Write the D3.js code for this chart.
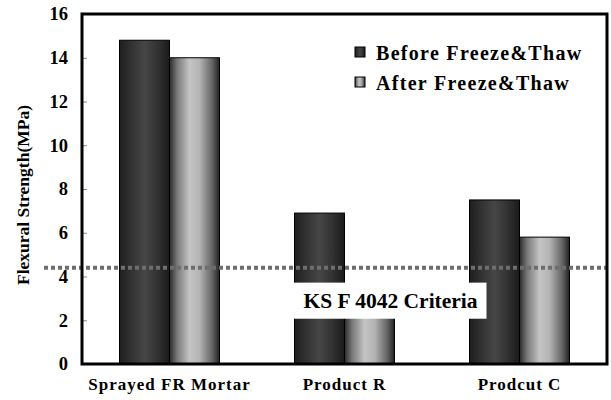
<!DOCTYPE html>
<html>
<head>
<meta charset="utf-8">
<script src="https://cdn.jsdelivr.net/npm/d3@7"></script>
<style>
  html, body { margin: 0; padding: 0; background: #fff; }
  svg { display: block; }
  text { font-family: "Liberation Serif", "Times New Roman", serif; font-weight: bold; fill: #000; }
</style>
</head>
<body>
<svg id="chart" width="611" height="400"></svg>
<script>
// Flexural strength before / after freeze-thaw cycling
const categories = ["Sprayed FR Mortar", "Product R", "Prodcut C"];
const seriesNames = ["Before Freeze&Thaw", "After Freeze&Thaw"];
const beforeValues = [14.8, 6.9, 7.5];
const afterValues = [14.0, 3.0, 5.8];
const yTicks = [0, 2, 4, 6, 8, 10, 12, 14, 16];
const criteriaValue = 4.4;
const criteriaLabel = "KS F 4042 Criteria";
const yTitle = "Flexural Strength(MPa)";

const svg = d3.select("#chart");
const W = 611, H = 400;
const plotL = 82, plotR = 607, plotT = 14, plotB = 364;

const x = d3.scaleBand().domain(categories).range([plotL, plotR]).paddingInner(0.4286).paddingOuter(0.2143);
const xs = d3.scaleBand().domain([0, 1]).range([0, x.bandwidth()]);
const y = d3.scaleLinear().domain([0, 16]).range([plotB, plotT]);

// Cylinder-like shading gradients
const defs = svg.append("defs");
function grad(id, stops) {
  const g = defs.append("linearGradient").attr("id", id).attr("x1", "0").attr("x2", "1").attr("y1", "0").attr("y2", "0");
  stops.forEach(([o, c]) => g.append("stop").attr("offset", o).attr("stop-color", c));
}
grad("gDark", [[0, "#1e1e1e"], [0.25, "#333"], [0.5, "#464646"], [0.75, "#333"], [1, "#1a1a1a"]]);
grad("gLight", [[0, "#2a2a2a"], [0.15, "#777"], [0.4, "#c4c4c4"], [0.6, "#b4b4b4"], [0.85, "#666"], [1, "#222"]]);
const fills = ["url(#gDark)", "url(#gLight)"];

// Bars
const rows = categories.map((c, i) => ({ c, vals: [beforeValues[i], afterValues[i]] }));
const groups = svg.append("g").selectAll("g").data(rows).join("g")
  .attr("transform", d => `translate(${x(d.c)},0)`);
groups.selectAll("rect").data(d => d.vals.map((v, k) => ({ v, k }))).join("rect")
  .attr("x", d => xs(d.k))
  .attr("width", xs.bandwidth())
  .attr("y", d => y(d.v))
  .attr("height", d => y(0) - y(d.v))
  .attr("fill", d => fills[d.k])
  .attr("stroke", "#000")
  .attr("stroke-width", 1);

// Y axis ticks and labels
const yAxis = d3.axisLeft(y).tickValues(yTicks).tickSize(-5).tickPadding(14).tickFormat(d3.format("d"));
const ya = svg.append("g").attr("transform", `translate(${plotL},0)`).call(yAxis);
ya.select(".domain").remove();
ya.selectAll("line").attr("stroke", "#888").attr("stroke-width", 1);
ya.selectAll("text").attr("font-size", 18.5).attr("font-family", "Liberation Serif, serif").attr("font-weight", "bold").attr("fill", "#000");

// Category labels
const xAxis = d3.axisBottom(x).tickSize(0).tickPadding(14);
const xa = svg.append("g").attr("transform", `translate(0,${plotB})`).call(xAxis);
xa.select(".domain").remove();
xa.selectAll("text").attr("font-size", 17).attr("letter-spacing", "1px")
  .attr("font-family", "Liberation Serif, serif").attr("font-weight", "bold").attr("fill", "#000");

// Y title
svg.append("text")
  .attr("transform", `translate(29,${(plotT + plotB) / 2 + 6}) rotate(-90)`)
  .attr("text-anchor", "middle")
  .attr("font-size", 17.5)
  .text(yTitle);

// Criteria line
svg.append("line")
  .attr("x1", 44).attr("x2", W)
  .attr("y1", y(criteriaValue)).attr("y2", y(criteriaValue))
  .attr("stroke", "#6e6e6e").attr("stroke-width", 4).attr("stroke-dasharray", "4,3");

// Criteria label on white box
const lbl = svg.append("g");
lbl.append("rect")
  .attr("x", x(categories[1]) - 1).attr("y", y(3.72))
  .attr("width", 193).attr("height", y(2.07) - y(3.72))
  .attr("fill", "#fff");
lbl.append("text")
  .attr("x", x(categories[1]) + 96).attr("y", (y(3.72) + y(2.07)) / 2)
  .attr("dy", "0.35em").attr("text-anchor", "middle")
  .attr("font-size", 21.5)
  .text(criteriaLabel);

// Frame
svg.append("rect")
  .attr("x", plotL).attr("y", plotT)
  .attr("width", plotR - plotL).attr("height", plotB - plotT)
  .attr("fill", "none").attr("stroke", "#000").attr("stroke-width", 3);

// Legend
const legend = svg.append("g").attr("transform", "translate(355,47)");
seriesNames.forEach((name, k) => {
  const g = legend.append("g").attr("transform", `translate(0,${k * 30})`);
  g.append("rect").attr("width", 10).attr("height", 10).attr("fill", fills[k]).attr("stroke", "#000").attr("stroke-width", 1);
  g.append("text").attr("x", 21).attr("y", 13).attr("font-size", 20).attr("letter-spacing", "1.3px").text(name);
});
</script>
</body>
</html>
